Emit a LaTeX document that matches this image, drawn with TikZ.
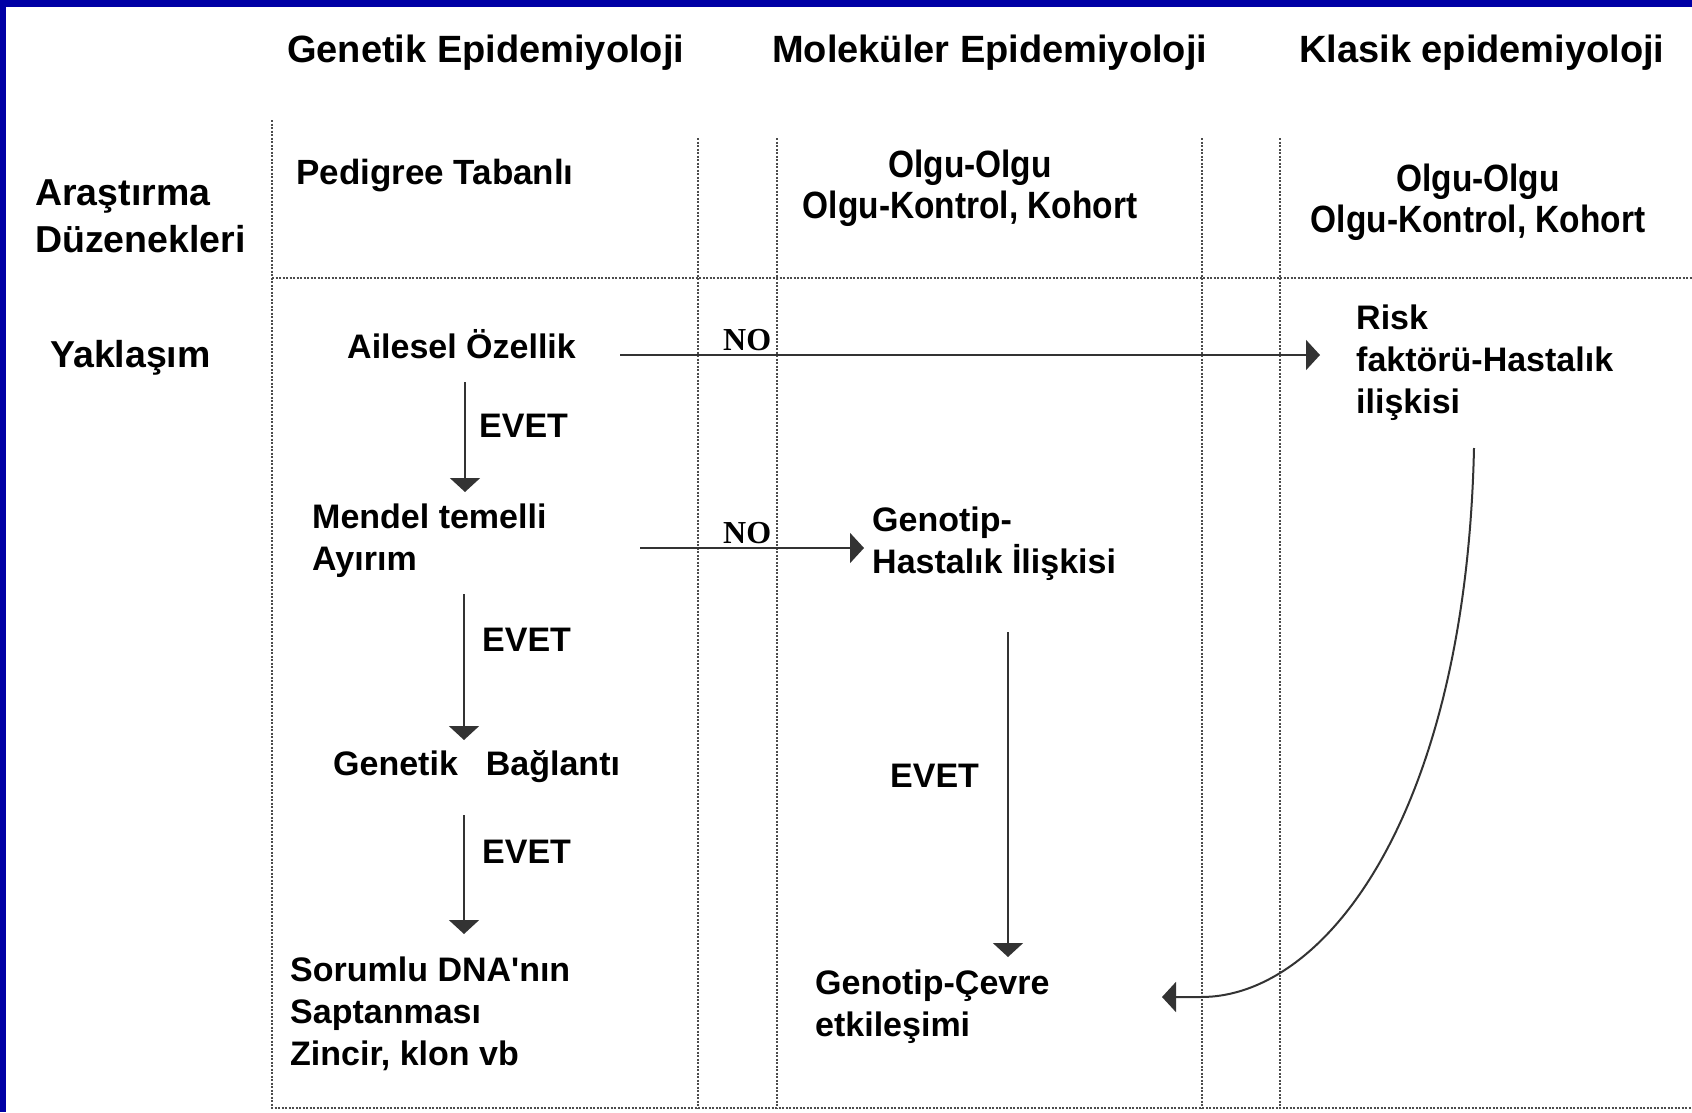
\documentclass[tikz,border=0pt]{standalone}
\usepackage{fontspec}
\setmainfont{Liberation Sans}
\newfontfamily\narrowf[FakeStretch=0.88]{Liberation Sans}
\newfontfamily\seriff{Liberation Serif}
\usetikzlibrary{arrows.meta,calc}
\definecolor{frameblue}{RGB}{0,0,165}
\tikzset{
  hdr/.style={font=\fontsize{38}{44}\selectfont\bfseries, inner sep=0, anchor=base west},
  lbl/.style={font=\fontsize{37.5}{47}\selectfont\bfseries, inner sep=0, anchor=base west, align=left},
  body/.style={font=\fontsize{34}{42}\selectfont\bfseries, inner sep=0, anchor=base west, align=left},
  pedi/.style={font=\fontsize{35}{42}\selectfont\bfseries, inner sep=0, anchor=base west},
  olgu/.style={font=\narrowf\fontsize{38}{41}\selectfont\bfseries, inner sep=0, anchor=base, align=center},
  notxt/.style={font=\seriff\fontsize{32}{38}\selectfont\bfseries, inner sep=0, anchor=base west},
  gridline/.style={draw=black!70, line width=1.3pt, dash pattern=on 2pt off 1.5pt},
  arr/.style={draw=black!80, line width=2pt, -{Triangle[width=30pt,length=14pt]}}
}
\begin{document}
\begin{tikzpicture}[x=1pt,y=-1pt]
\useasboundingbox (0,0) rectangle (1692,1112);
\fill[white] (0,0) rectangle (1692,1112);
\fill[frameblue] (0,0) rectangle (1692,7);
\fill[frameblue] (0,0) rectangle (6,1112);

% grid
\draw[gridline] (272,120) -- (272,1108) -- (1692,1108);
\draw[gridline] (272,278) -- (1692,278);
\draw[gridline] (698,138) -- (698,1108);
\draw[gridline] (777,138) -- (777,1108);
\draw[gridline] (1202,138) -- (1202,1108);
\draw[gridline] (1280,138) -- (1280,1108);

% headers
\node[hdr] (h1) at (287,62) {Genetik Epidemiyoloji};
\node[hdr] (h2) at (772,62) {Moleküler Epidemiyoloji};
\node[hdr] (h3) at (1299,62) {Klasik epidemiyoloji};

% row labels (multi-line nodes: base = last line's baseline)
\node[lbl] (ara) at (35,252) {Araştırma\\Düzenekleri};
\node[lbl] (yak) at (50,367) {Yaklaşım};

% research designs
\node[pedi] (ped) at (296,184) {Pedigree Tabanlı};
\node[olgu] (olg1) at (970,218) {Olgu-Olgu\\Olgu-Kontrol, Kohort};
\node[olgu] (olg2) at (1478,232) {Olgu-Olgu\\Olgu-Kontrol, Kohort};

% approach
\node[body] (ail) at (347,358) {Ailesel Özellik};
\node[body] (men) at (312,570) {Mendel temelli\\Ayırım};
\node[body] (bag) at (333,775) {Genetik\hspace{28pt}Bağlantı};
\node[body] (dna) at (290,1065) {Sorumlu DNA\textquotesingle nın\\Saptanması\\Zincir, klon vb};
\node[body] (risk) at (1356,413) {Risk\\faktörü-Hastalık\\ilişkisi};
\node[body] (gh) at (872,573) {Genotip-\\Hastalık İlişkisi};
\node[body] (gc) at (815,1036) {Genotip-Çevre\\etkileşimi};

\node[body] (e1) at (479,437) {EVET};
\node[body] (e2) at (482,651) {EVET};
\node[body] (e3) at (482,863) {EVET};
\node[body] (e4) at (890,787) {EVET};

\node[notxt] (n1) at (723,350) {NO};
\node[notxt] (n2) at (723,543) {NO};

% connectors
\draw[arr] ($(ail.base west)+(273,-3)$) -- ($(risk.base west)+(-36,-58)$);
\draw[arr] ($(ail.base west)+(118,24)$) -- ($(men.base west)+(153,-78)$);
\draw[arr] ($(men.base west)+(328,-22)$) -- ($(gh.base west)+(-8,-25)$);
\draw[arr] ($(men.base west)+(152,24)$) -- ($(bag.base west)+(131,-35)$);
\draw[arr] ($(bag.base west)+(131,40)$) -- ($(dna.base west)+(174,-131)$);
\draw[arr] ($(gh.base west)+(136,59)$) -- ($(gc.base west)+(193,-79)$);
\draw[arr] ($(risk.base west)+(118,35)$) .. controls ($(risk.base west)+(110,400)$) and ($(risk.base west)+(-30,585)$) .. ($(risk.base west)+(-156,584)$) -- ($(gc.base west)+(347,-39)$);
\end{tikzpicture}
\end{document}
